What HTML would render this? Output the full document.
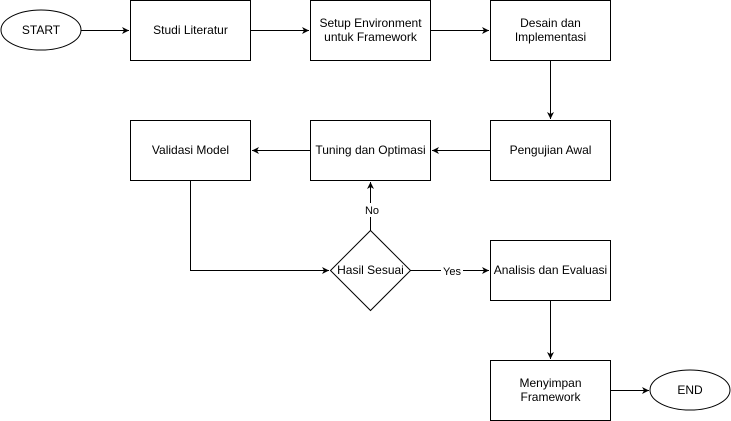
<!DOCTYPE html>
<html><head><meta charset="utf-8"><style>
html,body{margin:0;padding:0;background:#fff;}
svg{display:block;}
text{font-family:"Liberation Sans",Arial,sans-serif;font-size:12px;fill:#000;}
</style></head><body>
<svg width="731" height="421" viewBox="0 0 731 421" xmlns="http://www.w3.org/2000/svg">
<defs>
<marker id="a" markerWidth="8" markerHeight="8" refX="7" refY="4" orient="auto" markerUnits="userSpaceOnUse">
<path d="M0,0.5 L7,4 L0,7.5 L2,4 Z" fill="#000"/></marker>
</defs>
<g fill="#fff" stroke="#000" stroke-width="1">
<ellipse cx="41" cy="30" rx="40" ry="20"/>
<rect x="130.5" y="0.5" width="120" height="60"/>
<rect x="310.5" y="0.5" width="120" height="60"/>
<rect x="490.5" y="0.5" width="120" height="60"/>
<rect x="130.5" y="120.5" width="120" height="60"/>
<rect x="310.5" y="120.5" width="120" height="60"/>
<rect x="490.5" y="120.5" width="120" height="60"/>
<path d="M370.5,230.5 L410.5,270.5 L370.5,310.5 L330.5,270.5 Z"/>
<rect x="490.5" y="240.5" width="120" height="60"/>
<rect x="490.5" y="360.5" width="120" height="60"/>
<ellipse cx="690" cy="390" rx="40" ry="20"/>
</g>
<g fill="none" stroke="#000" stroke-width="1" marker-end="url(#a)">
<path d="M81,30.5 H129"/>
<path d="M250.5,30.5 H309"/>
<path d="M430.5,30.5 H489"/>
<path d="M550.5,60.5 V119"/>
<path d="M490.5,150.5 H432"/>
<path d="M310.5,150.5 H252"/>
<path d="M190.5,180.5 V270.5 H329"/>
<path d="M370.5,230.5 V182"/>
<path d="M410.5,270.5 H489"/>
<path d="M550.5,300.5 V359"/>
<path d="M610.5,390.5 H649"/>
</g>
<rect x="363" y="203" width="16" height="14" fill="#fff"/>
<rect x="441" y="263" width="22" height="14" fill="#fff"/>
<g text-anchor="middle">
<text x="41" y="34">START</text>
<text x="190.5" y="34">Studi Literatur</text>
<text x="370.5" y="27">Setup Environment</text>
<text x="370.5" y="41">untuk Framework</text>
<text x="550.5" y="27">Desain dan</text>
<text x="550.5" y="41">Implementasi</text>
<text x="190.5" y="154">Validasi Model</text>
<text x="370.5" y="154">Tuning dan Optimasi</text>
<text x="550.5" y="154">Pengujian Awal</text>
<text x="370.5" y="274">Hasil Sesuai</text>
<text x="550.5" y="274">Analisis dan Evaluasi</text>
<text x="550.5" y="387">Menyimpan</text>
<text x="550.5" y="401">Framework</text>
<text x="690" y="394">END</text>
<text x="372" y="214" style="font-size:11px">No</text>
<text x="452" y="275" style="font-size:11px">Yes</text>
</g>
</svg>
</body></html>
